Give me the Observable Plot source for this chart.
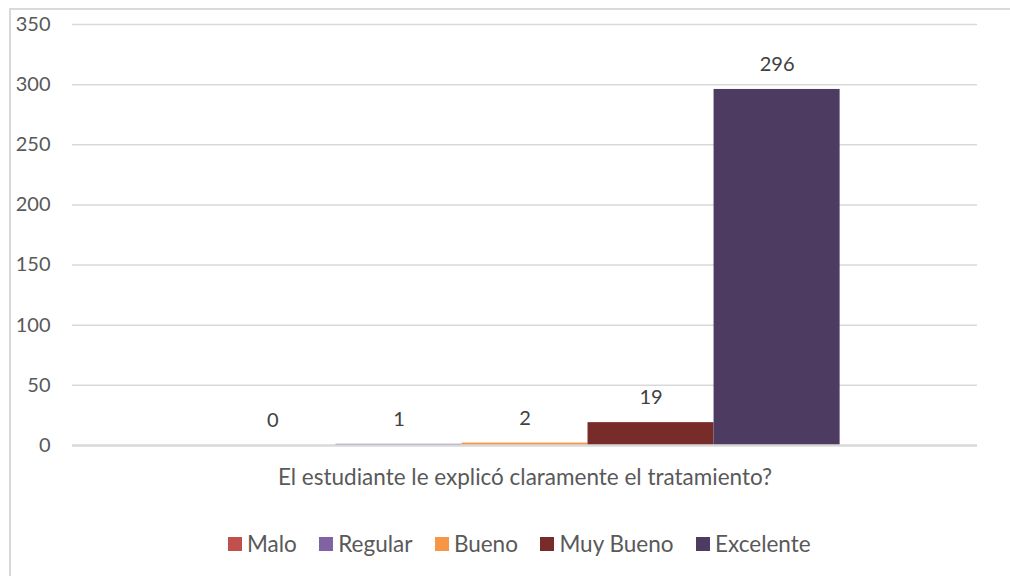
<!DOCTYPE html>
<html>
<head>
<meta charset="utf-8">
<script src="https://cdn.jsdelivr.net/npm/d3@7"></script>
<script src="https://cdn.jsdelivr.net/npm/@observablehq/plot@0.6"></script>
<style>
  html, body { margin: 0; padding: 0; background: #fff; width: 1010px; height: 576px; overflow: hidden; }
  #frame { position: absolute; left: 9px; top: 8px; width: 1100px; height: 700px; border-left: 2px solid #d9d9d9; border-top: 2px solid #d9d9d9; }
  #chart { position: absolute; left: 0; top: 0; }
  #legend { position: absolute; left: 11px; top: 527px; width: 1039px; display: flex; justify-content: center; }
  #legend div[class*="-swatch"] { margin-right: 27px !important; }
  #legend div[class*="-swatch"]:last-child { margin-right: 0 !important; }
  #legend div[class*="-swatch"] svg { margin-right: 5px !important; }
</style>
</head>
<body>
<div id="frame"></div>
<div id="chart"></div>
<div id="legend"></div>
<script>
const categories = ["El estudiante le explicó claramente el tratamiento?"];
const series = ["Malo", "Regular", "Bueno", "Muy Bueno", "Excelente"];
const values = [0, 1, 2, 19, 296];
const colors = ["#c0504d", "#8064a2", "#f79646", "#772c2a", "#4d3b62"];
const yTicks = [0, 50, 100, 150, 200, 250, 300, 350];

const data = series.map((s, i) => ({series: s, value: values[i]}));
const font = "Lato, 'Open Sans', sans-serif";

const chart = Plot.plot({
  width: 1010,
  height: 500,
  marginLeft: 72,
  marginRight: 33,
  marginTop: 24,
  marginBottom: 55,
  style: {fontFamily: font, fontSize: "20px", color: "#595959", background: "transparent", overflow: "visible"},
  x: {domain: series, paddingInner: 0, paddingOuter: 1.09, round: false, axis: null},
  y: {domain: [0, 350], axis: null},
  color: {domain: series, range: colors},
  marks: [
    Plot.ruleY(yTicks.filter(t => t > 0), {stroke: "#d9d9d9", strokeWidth: 1.5}),
    Plot.barY(data, {x: "series", y: "value", fill: "series"}),
    Plot.ruleY([0], {stroke: "#d9d9d9", strokeWidth: 2.4}),
    Plot.axisY({ticks: yTicks, tickSize: 0, tickPadding: 22, label: null, fontSize: 20, fill: "#595959"}),
    Plot.text(data, {x: "series", y: "value", text: d => String(d.value), dy: -25, lineAnchor: "middle", fontSize: 20, fill: "#404040"}),
    Plot.text(categories, {frameAnchor: "bottom", text: d => d, dy: 32, lineAnchor: "middle", fontSize: 22.5, fill: "#595959"})
  ]
});
document.getElementById("chart").appendChild(chart);

const legend = Plot.legend({
  color: {type: "ordinal", domain: series, range: colors},
  swatchSize: 14,
  style: {fontFamily: font, fontSize: "22.5px", color: "#595959", marginLeft: "0"}
});
document.getElementById("legend").appendChild(legend);
</script>
</body>
</html>
